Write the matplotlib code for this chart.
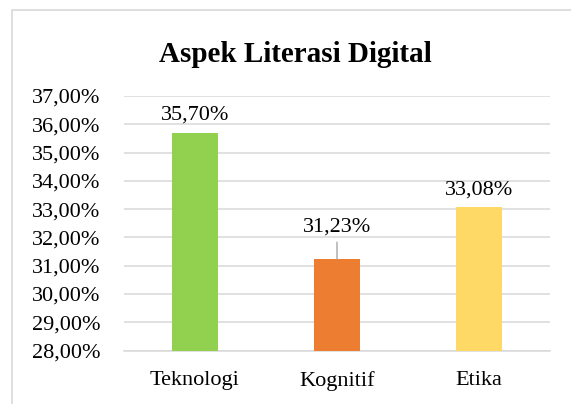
import matplotlib
matplotlib.use("Agg")
import matplotlib.pyplot as plt
from matplotlib.patches import Rectangle
import numpy as np

categories = ["Teknologi", "Kognitif", "Etika"]
values = [35.70, 31.23, 33.08]
colors = ["#92D050", "#ED7D31", "#FFD966"]
yticks = [28, 29, 30, 31, 32, 33, 34, 35, 36, 37]
title = "Aspek Literasi Digital"

plt.rcParams['font.family'] = ['Liberation Serif', 'DejaVu Serif']

W, H = 571, 404
fig = plt.figure(figsize=(W / 100, H / 100), dpi=100)
ax = fig.add_axes([124 / W, 1 - 350.5 / H, (550 - 124) / W, (350.5 - 96) / H])

x = np.arange(len(categories))
ax.bar(x, values, width=0.317, color=colors, zorder=3)
ax.set_xlim(-0.5, len(categories) - 0.5)
ax.set_ylim(yticks[0], yticks[-1])
ax.set_yticks(yticks)
ax.set_yticklabels([f"{v:.2f}%".replace(".", ",") for v in yticks], fontsize=16)
ax.set_xticks(x)
ax.set_xticklabels(categories, fontsize=16)
ax.tick_params(axis='y', length=0, pad=17)
ax.tick_params(axis='x', length=0, pad=14.5)
ax.grid(axis='y', color='#d9d9d9', linewidth=1.1, zorder=0)
for s in ['top', 'right', 'left']:
    ax.spines[s].set_visible(False)
ax.spines['bottom'].set_color('#d9d9d9')
ax.spines['bottom'].set_linewidth(1.1)

offsets = [9.5, 19.8, 8.6]
for i, (v, off) in enumerate(zip(values, offsets)):
    label = f"{v:.2f}%".replace(".", ",")
    if off > 10:
        ax.annotate(label, xy=(i, v), xytext=(0, off), textcoords='offset points',
                    ha='center', va='baseline', fontsize=16,
                    arrowprops=dict(arrowstyle='-', color='#a6a6a6', lw=1.0,
                                    shrinkA=2, shrinkB=0))
    else:
        ax.annotate(label, xy=(i, v), xytext=(0, off), textcoords='offset points',
                    ha='center', va='baseline', fontsize=16)

fig.text(295 / W, 1 - 62 / H, title, ha='center', va='baseline',
         fontsize=21, fontweight='bold')

fig.patches.append(Rectangle((12 / W, -0.1), 1.2, 1 - 10 / H + 0.1,
                             transform=fig.transFigure, fill=False,
                             edgecolor='#d9d9d9', linewidth=1.2))

fig.savefig("out.png", dpi=100)
